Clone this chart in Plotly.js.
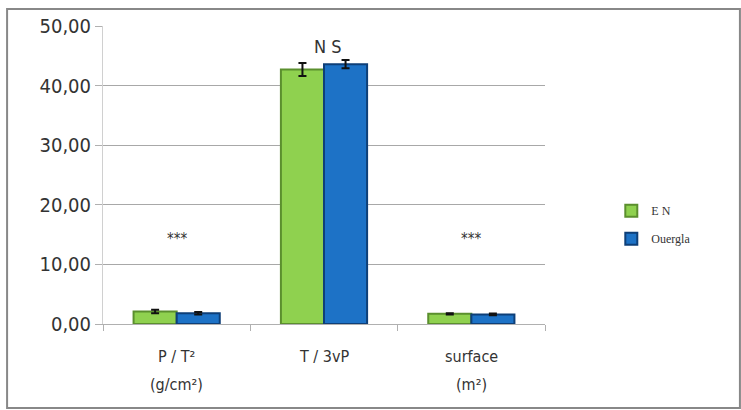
<!DOCTYPE html>
<html><head><meta charset="utf-8">
<script src="https://cdn.plot.ly/plotly-3.0.1.min.js"></script>
<style>html,body{margin:0;padding:0;background:#fff}#chart{width:741px;height:410px}</style>
</head><body><div id="chart"></div>
<script>
const categories = ["P / T²", "T / 3vP", "surface"];
const categoryUnits = ["(g/cm²)", "", "(m²)"];
const enValues = [2.1, 42.7, 1.7];
const enErrors = [0.3, 1.1, 0.1];
const ouerglaValues = [1.8, 43.6, 1.6];
const ouerglaErrors = [0.2, 0.7, 0.15];
const seriesNames = ["E N", "Ouergla"];
const yTicks = [0, 10, 20, 30, 40, 50];
const yTickLabels = ["0,00", "10,00", "20,00", "30,00", "40,00", "50,00"];
const sigLabels = ["***", "N S", "***"];
const sigY = [14.3, 46.6, 14.3];

const font = "'DejaVu Sans Condensed', 'Liberation Sans Narrow', 'Open Sans', Arial, sans-serif";
const traces = [
  {type:'bar', name:seriesNames[0], legendgroup:'a', x:categories, y:enValues,
   marker:{color:'#8fd14f', line:{color:'#5b8f2e', width:2}},
   error_y:{type:'data', array:enErrors, visible:true, color:'#111', thickness:2, width:4}},
  {type:'bar', name:seriesNames[1], legendgroup:'b', x:categories, y:ouerglaValues,
   marker:{color:'#1d72c6', line:{color:'#0e3f78', width:2}},
   error_y:{type:'data', array:ouerglaErrors, visible:true, color:'#111', thickness:2, width:4}}
];
const annotations = categories.map((c,i)=>({x:c, y:sigY[i], xref:'x', yref:'y', text:sigLabels[i],
  showarrow:false, xshift: i===1?4:0, font:{family:font, size: i===1?18:15, color:'#333'}}));
categories.forEach((c,i)=>{
  annotations.push({x:c, y:0, xref:'x', yref:'y', text:c, showarrow:false, yanchor:'middle',
    yshift:-32, font:{family:font, size:16, color:'#333'}});
  if (categoryUnits[i]) annotations.push({x:c, y:0, xref:'x', yref:'y', text:categoryUnits[i], showarrow:false,
    yanchor:'middle', yshift:-60, font:{family:font, size:16, color:'#333'}});
});
const layout = {
  width:741, height:410,
  margin:{l:103, r:196, t:26, b:86},
  paper_bgcolor:'#fff', plot_bgcolor:'#fff',
  barmode:'group', bargap:0.415, bargroupgap:0,
  showlegend:true,
  legend:{x:1.15, y:0.333, xanchor:'left', yanchor:'middle', traceorder:'grouped', tracegroupgap:9,
    font:{family:"'Liberation Serif', serif", size:12, color:'#333'}, bgcolor:'rgba(0,0,0,0)'},
  xaxis:{type:'category', showgrid:false, showline:true, linecolor:'#b0b0b0', linewidth:1,
    ticks:'outside', ticklen:6, tickcolor:'#b0b0b0', tickson:'boundaries', showticklabels:false},
  yaxis:{range:[0,50], tickvals:yTicks, ticktext:yTickLabels, showgrid:true, gridcolor:'#a8a8a8', gridwidth:1,
    showline:true, linecolor:'#d0d0d0', ticks:'outside', ticklen:7, tickcolor:'#b0b0b0', zeroline:false,
    tickfont:{family:font, size:20, color:'#333'}},
  annotations: annotations,
  shapes:[{type:'rect', xref:'paper', yref:'paper', x0:-0.217, x1:1.441, y0:-0.282, y1:1.057,
    line:{color:'#888', width:2}, fillcolor:'rgba(0,0,0,0)'}]
};
Plotly.newPlot('chart', traces, layout, {displayModeBar:false, staticPlot:true});
</script></body></html>
